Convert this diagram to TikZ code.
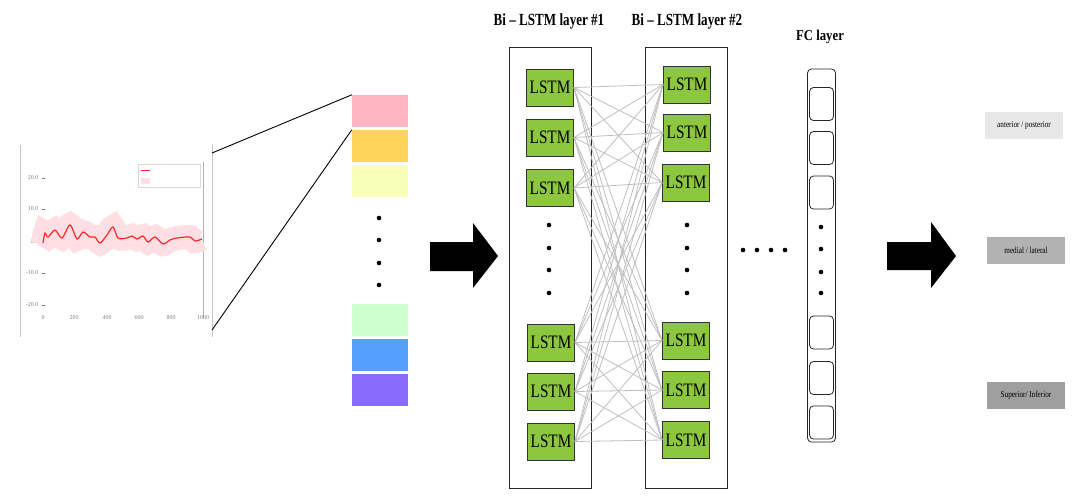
\documentclass[tikz,border=0pt]{standalone}
\usepackage{fontspec}
\setmainfont{Liberation Serif}
\usetikzlibrary{positioning}

\definecolor{lstmgreen}{RGB}{141,198,63}
\definecolor{bandpink}{RGB}{255,222,228}
\definecolor{cpink}{RGB}{255,180,194}
\definecolor{corange}{RGB}{255,212,90}
\definecolor{cyellow}{RGB}{248,255,184}
\definecolor{cgreen}{RGB}{204,255,204}
\definecolor{cblue}{RGB}{85,160,255}
\definecolor{cpurple}{RGB}{138,107,255}
\newcommand{\narrow}[2]{\scalebox{#1}[1]{#2}}

\begin{document}
\begin{tikzpicture}[x=1pt,y=-1pt,
    lstm/.style={draw=black!80,fill=lstmgreen,line width=0.9pt,minimum width=47pt,
      minimum height=37pt,inner sep=0pt,font=\fontsize{19}{19}\selectfont},
    layer/.style={draw=black!85,line width=0.9pt,minimum width=82pt,minimum height=441pt,inner sep=0pt},
    title/.style={font=\fontsize{17}{17}\selectfont\bfseries},
    feat/.style={minimum width=56pt,minimum height=32pt,inner sep=0pt},
    fcunit/.style={draw=black!85,line width=0.8pt,rounded corners=4pt,minimum width=24pt,
      minimum height=33pt,inner sep=0pt},
    outbox/.style={minimum width=78pt,minimum height=27pt,inner sep=0pt,font=\fontsize{9}{9}\selectfont},
    dot/.style={circle,fill=black,inner sep=0pt,minimum size=4.6pt},
    link/.style={draw=gray!50,line width=0.8pt}]
  \useasboundingbox (0,0) rectangle (1078,499);

  % input signal plot
  \draw[gray!45] (20,145) -- (20,337);
  \draw[gray!45] (212,145) -- (212,337);
  \draw[gray!60] (203,162) -- (203,318);
  \foreach \y/\t in {178/20.0,209/10.0,242/0.0,273/-10.0,305/-20.0}
    \draw[gray] (42,\y) node[left,font=\fontsize{6}{6}\selectfont,text=gray] {\t} -- (45,\y);
  \foreach \x/\t in {43/0,74/200,107/400,139/600,171/800,203/1000}
    \node[font=\fontsize{6}{6}\selectfont,text=gray] at (\x,318) {\t};
  \draw[red!85,line width=1.2pt,preaction={draw=bandpink,line width=24pt}]
    plot[smooth] coordinates {(43,243) (45,233) (48,237) (55,230) (62,238) (70,225)
      (77,239) (83,232) (90,237) (95,237) (100,243) (107,235) (113,227) (118,238)
      (127,238) (132,236) (137,239) (143,236) (148,242) (155,237) (163,244) (170,240)
      (177,238) (190,237) (195,241) (202,239)};
  \draw[gray!30] (138,164) rectangle (200,187);
  \draw[red!85,line width=1pt] (141,170) -- (150,170);
  \fill[bandpink] (141,178) rectangle (150,184);
  \coordinate (plot_top) at (212,153);
  \coordinate (plot_bot) at (212,330);

  % feature vectors
  \node[feat,fill=cpink]   (f_1) at (380,111) {};
  \node[feat,fill=corange] (f_2) at (380,146) {};
  \node[feat,fill=cyellow] (f_3) at (380,181) {};
  \node[feat,fill=cgreen]  (f_4) at (380,320) {};
  \node[feat,fill=cblue]   (f_5) at (380,355) {};
  \node[feat,fill=cpurple] (f_6) at (380,390) {};
  \foreach \y in {218,240,263,285}
    \node[dot] at (379,\y) {};
  \draw[line width=0.9pt] (plot_top) -- (f_1.north west);
  \draw[line width=0.9pt] (plot_bot) -- (f_2.north west);

  % big arrows
  \fill (430,242) -- (473,242) -- (473,223) -- (498,256) -- (473,288) -- (473,271) -- (430,271) -- cycle;
  \fill (887,242) -- (931,242) -- (931,222) -- (956,256) -- (931,288) -- (931,270) -- (887,270) -- cycle;

  % Bi-LSTM layers
  \node[layer] (layer_1) at (550,267.5) {};
  \node[layer] (layer_2) at (686.5,267.5) {};
  \node[title] at (549,21) {\narrow{0.77}{Bi -- LSTM layer \#1}};
  \node[title] at (687,21) {\narrow{0.77}{Bi -- LSTM layer \#2}};
  \node[lstm] (l1_1) at (550,87.5)  {\narrow{0.8}{LSTM}};
  \node[lstm] (l1_2) at (550,137.5) {\narrow{0.8}{LSTM}};
  \node[lstm] (l1_3) at (550,188)   {\narrow{0.8}{LSTM}};
  \node[lstm] (l1_4) at (551,342.5) {\narrow{0.8}{LSTM}};
  \node[lstm] (l1_5) at (551,391.5) {\narrow{0.8}{LSTM}};
  \node[lstm] (l1_6) at (551,441.5) {\narrow{0.8}{LSTM}};
  \node[lstm] (l2_1) at (687,84.5)  {\narrow{0.8}{LSTM}};
  \node[lstm] (l2_2) at (687,132.5) {\narrow{0.8}{LSTM}};
  \node[lstm] (l2_3) at (686,182.5) {\narrow{0.8}{LSTM}};
  \node[lstm] (l2_4) at (686,340.5) {\narrow{0.8}{LSTM}};
  \node[lstm] (l2_5) at (686,390)   {\narrow{0.8}{LSTM}};
  \node[lstm] (l2_6) at (686,440)   {\narrow{0.8}{LSTM}};
  \foreach \y in {225,248,270,293} {
    \node[dot] at (549,\y) {};
    \node[dot] at (687,\y) {};
  }
  % full connections
  \foreach \i in {1,...,6}
    \foreach \j in {1,...,6}
      \draw[link] (l1_\i.east) -- (l2_\j.west);

  % dots between layers
  \foreach \x in {743,757,771,785}
    \node[dot] at (\x,250) {};

  % FC layer
  \node[title,font=\fontsize{15}{15}\selectfont\bfseries] at (820,37) {\narrow{0.85}{FC layer}};
  \node[draw=black!85,line width=0.8pt,rounded corners=4pt,minimum width=28pt,minimum height=373pt,
    inner sep=0pt] (fc) at (821.5,255.5) {};
  \node[fcunit] (fc_1) at (821.5,104)   {};
  \node[fcunit] (fc_2) at (821.5,148)   {};
  \node[fcunit] (fc_3) at (821.5,192.5) {};
  \node[fcunit] (fc_4) at (821.5,332.5) {};
  \node[fcunit] (fc_5) at (821.5,378)   {};
  \node[fcunit] (fc_6) at (821.5,422.5) {};
  \foreach \y in {227,249,272,293}
    \node[dot] at (821,\y) {};

  % outputs
  \node[outbox,fill=gray!18] (out_1) at (1024,125.5) {\narrow{0.8}{anterior / posterior}};
  \node[outbox,fill=gray!60] (out_2) at (1026,250.5) {\narrow{0.8}{medial / lateral}};
  \node[outbox,fill=gray!75] (out_3) at (1026,395)   {\narrow{0.8}{Superior/ Inferior}};
\end{tikzpicture}
\end{document}
